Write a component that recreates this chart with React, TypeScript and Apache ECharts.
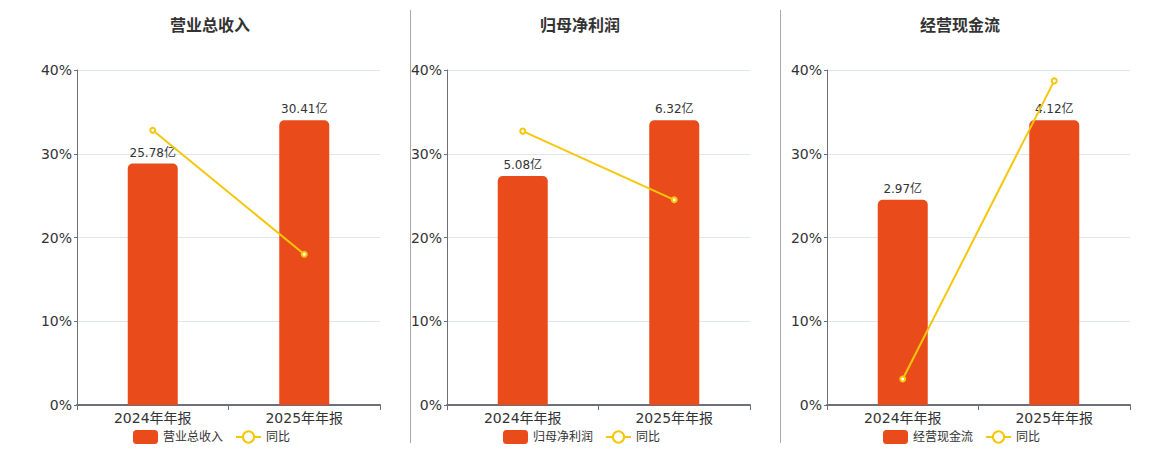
import React, { useEffect, useRef } from "react";
import * as echarts from "echarts";

const categories = ["2024年年报", "2025年年报"];
const panelTitles = ["营业总收入", "归母净利润", "经营现金流"];
const revenue = [25.78, 30.41];
const revenueYoy = [32.8, 18.0];
const netProfit = [5.08, 6.32];
const netProfitYoy = [32.7, 24.5];
const cashFlow = [2.97, 4.12];
const cashFlowYoy = [3.1, 38.7];
const yTicks = { min: 0, max: 40, interval: 10 };

const FONT = "DejaVu Sans, Noto Sans CJK SC, sans-serif";
const BAR_COLOR = "#E94B1B";
const LINE_COLOR = "#F5C70A";

export default function App() {
  const ref = useRef<HTMLDivElement>(null);

  useEffect(() => {
    if (!ref.current) return;
    const chart = echarts.init(ref.current, null, { renderer: "svg" });
    const bars = [revenue, netProfit, cashFlow];
    const yoys = [revenueYoy, netProfitYoy, cashFlowYoy];
    const gridLefts = [77, 447, 827];
    const titleCenters = [210, 580, 960];
    const legendLefts = [133, 503, 883];
    const grids: any[] = [];
    const xAxes: any[] = [];
    const yAxes: any[] = [];
    const series: any[] = [];
    const titles: any[] = [];
    const legends: any[] = [];

    for (let i = 0; i < 3; i++) {
      grids.push({ left: gridLefts[i], top: 70, width: 303, height: 335 });
      xAxes.push({
        type: "category",
        gridIndex: i,
        data: categories,
        axisLine: { lineStyle: { color: "#6E7079", width: 2 } },
        axisTick: { show: true, length: 5, lineStyle: { color: "#6E7079" } },
        axisLabel: { color: "#333", fontSize: 14, fontFamily: FONT, margin: 6 },
      });
      yAxes.push({
        type: "value",
        gridIndex: i,
        min: yTicks.min,
        max: yTicks.max,
        interval: yTicks.interval,
        axisLine: { show: true, lineStyle: { color: "#6E7079", width: 1 } },
        axisTick: { show: true, length: 3, lineStyle: { color: "#6E7079" } },
        axisLabel: { color: "#333", fontSize: 14, fontFamily: FONT, margin: 5, formatter: "{value}%" },
        splitLine: { lineStyle: { color: "#E0E6F1" } },
      });
      yAxes.push({
        type: "value",
        gridIndex: i,
        min: 0,
        max: (v: any) => v.max / 0.85,
        show: false,
        splitLine: { show: false },
      });
      series.push({
        type: "bar",
        name: panelTitles[i],
        xAxisIndex: i,
        yAxisIndex: i * 2 + 1,
        data: bars[i],
        barWidth: 50,
        itemStyle: { color: BAR_COLOR, borderRadius: [5, 5, 0, 0] },
        label: {
          show: true,
          position: "top",
          color: "#333",
          fontSize: 12,
          fontFamily: FONT,
          formatter: (p: any) => p.value + "亿",
        },
      });
      series.push({
        type: "line",
        name: "同比",
        xAxisIndex: i,
        yAxisIndex: i * 2,
        data: yoys[i],
        symbol: "emptyCircle",
        symbolSize: 5,
        lineStyle: { color: LINE_COLOR, width: 2 },
        itemStyle: { color: LINE_COLOR, borderColor: LINE_COLOR, borderWidth: 1.5 },
      });
      titles.push({
        text: panelTitles[i],
        left: titleCenters[i] - 5,
        textAlign: "center",
        top: 12,
        textStyle: { fontSize: 16, fontWeight: "bold", color: "#333", fontFamily: FONT },
      });
      legends.push({
        data: [panelTitles[i], "同比"],
        left: legendLefts[i] - 5,
        top: 425,
        itemWidth: 25,
        itemHeight: 14,
        itemGap: 12,
        selectedMode: false,
        textStyle: { fontSize: 12, color: "#333", fontFamily: FONT },
      });
    }

    chart.setOption({
      animation: false,
      backgroundColor: "#fff",
      title: titles,
      legend: legends,
      grid: grids,
      xAxis: xAxes,
      yAxis: yAxes,
      series,
      graphic: [
        { type: "line", shape: { x1: 410.5, y1: 10, x2: 410.5, y2: 443 }, style: { stroke: "#AAAAAA", lineWidth: 1 } },
        { type: "line", shape: { x1: 780.5, y1: 10, x2: 780.5, y2: 443 }, style: { stroke: "#AAAAAA", lineWidth: 1 } },
      ],
    });
    return () => chart.dispose();
  }, []);

  return (
    <div
      ref={ref}
      style={{ position: "absolute", left: 0, top: 0, width: 1160, height: 450 }}
    />
  );
}
